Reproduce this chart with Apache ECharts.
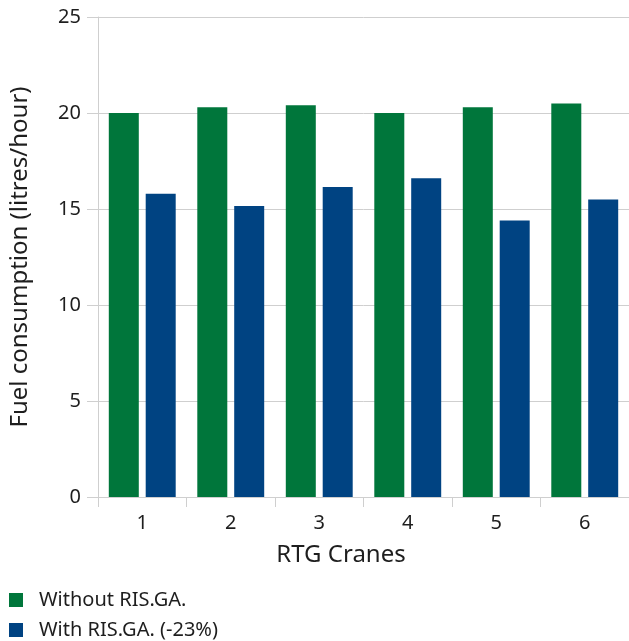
<!DOCTYPE html>
<html>
<head>
<meta charset="utf-8">
<script src="https://cdn.jsdelivr.net/npm/echarts@6/dist/echarts.min.js"></script>
<style>
html,body{margin:0;padding:0;background:#fff;}
#chart{width:629px;height:641px;}
</style>
</head>
<body>
<div id="chart"></div>
<script>
var categories = ['1','2','3','4','5','6'];
var withoutRIS = [20.0, 20.3, 20.4, 20.0, 20.3, 20.5];
var withRIS = [15.8, 15.15, 16.15, 16.6, 14.4, 15.5];
var seriesNames = ['Without RIS.GA.', 'With RIS.GA. (-23%)'];
var yTicks = {min: 0, max: 25, interval: 5};

var FONT = '"Noto Sans", "Open Sans", sans-serif';
var TEXT = '#1e1e1e';
var GRID = '#cfcfcf';

var chart = echarts.init(document.getElementById('chart'), null, {renderer: 'canvas'});
chart.setOption({
  animation: false,
  backgroundColor: '#ffffff',
  textStyle: {fontFamily: FONT, color: TEXT},
  grid: {left: 98, width: 534, top: 17, bottom: 144, containLabel: false},
  legend: {
    orient: 'vertical',
    left: 9,
    top: 590,
    padding: 0,
    itemWidth: 14,
    itemHeight: 14,
    itemGap: 10,
    icon: 'rect',
    selectedMode: false,
    textStyle: {fontFamily: FONT, fontSize: 20, color: TEXT, lineHeight: 20, padding: [0,0,0,11]},
    data: seriesNames
  },
  xAxis: {
    type: 'category',
    data: categories,
    name: 'RTG Cranes',
    nameLocation: 'middle',
    nameGap: 46,
    nameTextStyle: {fontFamily: FONT, fontSize: 24, color: TEXT, padding: [0, 45, 0, 0]},
    axisLine: {show: true, lineStyle: {color: GRID, width: 1}},
    axisTick: {show: true, length: 10, lineStyle: {color: GRID}},
    axisLabel: {fontFamily: FONT, fontSize: 20, color: TEXT, margin: 16}
  },
  yAxis: {
    type: 'value',
    min: yTicks.min,
    max: yTicks.max,
    interval: yTicks.interval,
    name: 'Fuel consumption (litres/hour)',
    nameLocation: 'middle',
    nameGap: 66,
    nameRotate: 90,
    nameTextStyle: {fontFamily: FONT, fontSize: 24, color: TEXT},
    axisLine: {show: true, lineStyle: {color: GRID, width: 1}},
    axisTick: {show: true, length: 11, lineStyle: {color: GRID}},
    axisLabel: {fontFamily: FONT, fontSize: 20, color: TEXT, margin: 17},
    splitLine: {show: true, lineStyle: {color: GRID, width: 1}}
  },
  series: [
    {
      name: seriesNames[0],
      type: 'bar',
      data: withoutRIS,
      barWidth: 30,
      barGap: '23%',
      itemStyle: {color: '#00763B'}
    },
    {
      name: seriesNames[1],
      type: 'bar',
      data: withRIS,
      barWidth: 30,
      barGap: '23%',
      itemStyle: {color: '#004382'}
    }
  ]
});
</script>
</body>
</html>
